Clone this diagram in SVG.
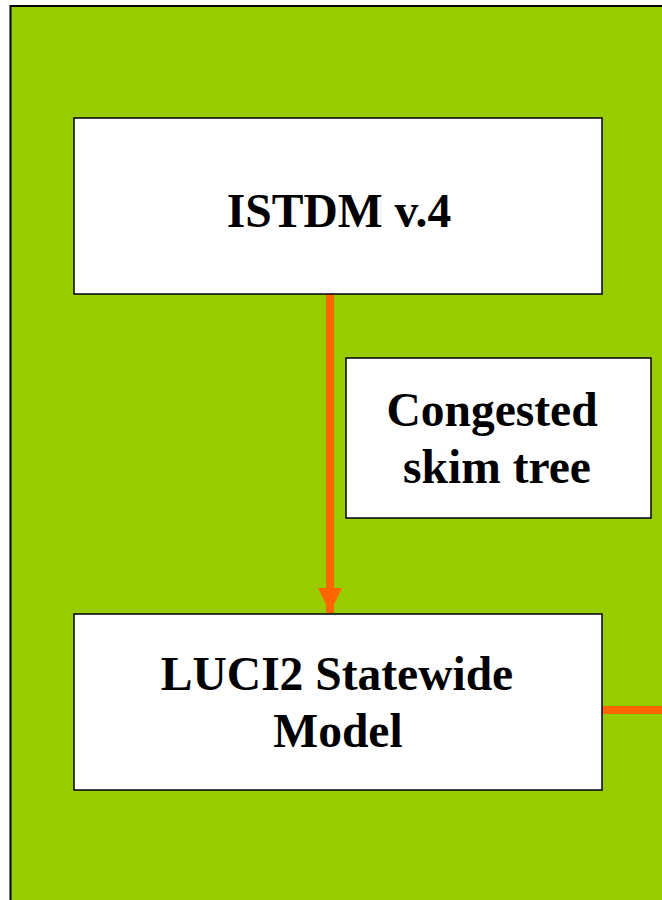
<svg xmlns="http://www.w3.org/2000/svg" width="662" height="900" viewBox="0 0 662 900">
<style>
.box{fill:#ffffff;stroke:#000000;stroke-width:1.5}
.t{font-family:"Liberation Serif","Times New Roman",serif;font-weight:bold;font-size:47.5px;fill:#000;text-anchor:middle}
.c{stroke:#ff6600;stroke-width:8;fill:none}
</style>
<defs>
<marker id="ah" markerUnits="userSpaceOnUse" markerWidth="26" markerHeight="24" refX="25" refY="12" orient="auto">
<path d="M0,0 L25,12 L0,24 Z" fill="#ff6600"/>
</marker>
</defs>
<rect x="10.5" y="6" width="700" height="950" fill="#99cc00" stroke="#000" stroke-width="2"/>
<g id="connectors">
<line class="c" x1="330" y1="294" x2="330" y2="613" marker-end="url(#ah)"/>
<line class="c" x1="602" y1="710" x2="662" y2="710"/>
</g>
<g id="istdm">
<rect class="box" x="74" y="118" width="528" height="176"/>
<text class="t" x="339" y="227">ISTDM v.4</text>
</g>
<g id="congested">
<rect class="box" x="346" y="358" width="305" height="160"/>
<text class="t" x="492" y="426">Congested</text>
<text class="t" x="497" y="483">skim tree</text>
</g>
<g id="luci2">
<rect class="box" x="74" y="614" width="528" height="176"/>
<text class="t" x="337" y="690">LUCI2 Statewide</text>
<text class="t" x="338" y="747">Model</text>
</g>
</svg>
